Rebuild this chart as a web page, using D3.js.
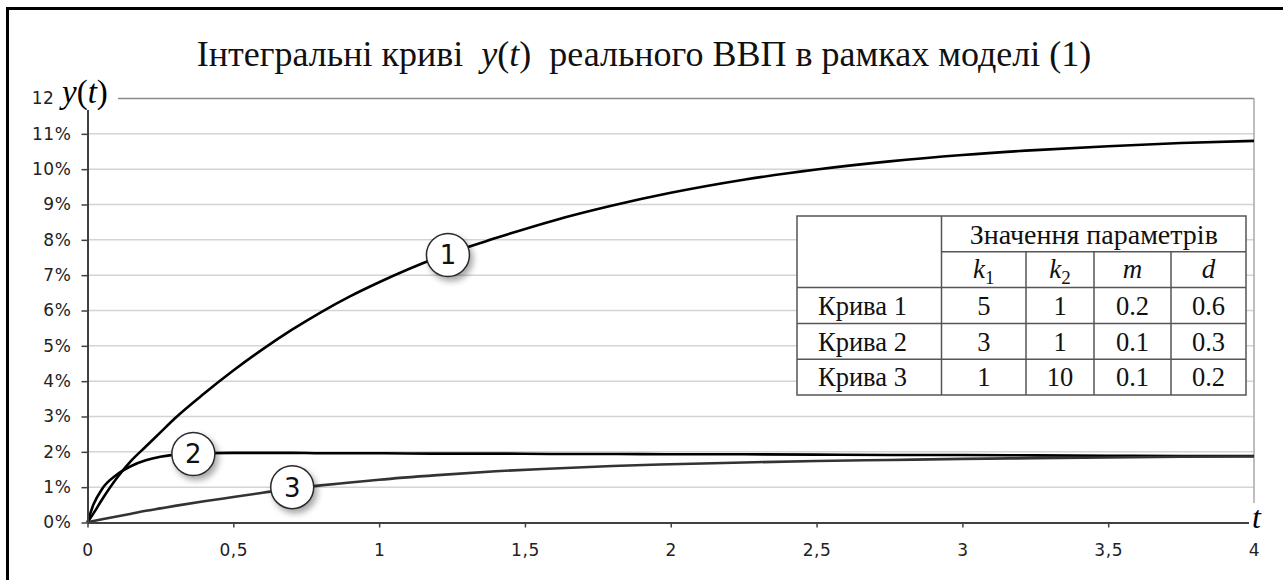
<!DOCTYPE html>
<html><head><meta charset="utf-8">
<script src="https://cdn.jsdelivr.net/npm/d3@7"></script>
<style>
html,body{margin:0;padding:0;background:#fff;}
svg{display:block;}
</style></head><body>
<svg id="chart" width="1283" height="580"></svg>
<script>
// Time samples (years) and the three integral curves, y in percent
const tValues = [0, 0.02, 0.05, 0.1, 0.15, 0.2, 0.25, 0.3, 0.4, 0.5, 0.6, 0.7, 0.8, 0.9, 1.0, 1.2, 1.4, 1.6, 1.8, 2.0, 2.25, 2.5, 2.75, 3.0, 3.25, 3.5, 3.75, 4.0];
const curve1 = [0, 0.25, 0.65, 1.25, 1.75, 2.15, 2.55, 2.95, 3.65, 4.3, 4.9, 5.45, 5.95, 6.4, 6.8, 7.5, 8.05, 8.55, 8.97, 9.33, 9.7, 9.99, 10.22, 10.4, 10.54, 10.65, 10.74, 10.8];
const curve2 = [0, 0.5, 0.95, 1.35, 1.6, 1.76, 1.86, 1.92, 1.96, 1.97, 1.97, 1.97, 1.96, 1.96, 1.96, 1.95, 1.95, 1.94, 1.94, 1.93, 1.93, 1.92, 1.91, 1.91, 1.9, 1.89, 1.88, 1.88];
const curve3 = [0, 0.04, 0.09, 0.17, 0.25, 0.33, 0.4, 0.47, 0.6, 0.72, 0.84, 0.96, 1.05, 1.13, 1.21, 1.34, 1.45, 1.53, 1.6, 1.65, 1.7, 1.74, 1.77, 1.8, 1.82, 1.84, 1.86, 1.87];

const yTicks = [0, 1, 2, 3, 4, 5, 6, 7, 8, 9, 10, 11, 12];
const xTicks = [0, 0.5, 1, 1.5, 2, 2.5, 3, 3.5, 4];

// Numbered callouts sitting on each curve
const markerNames = ["1", "2", "3"];
const markerT = [1.236, 0.363, 0.702];
const markerY = [7.57, 1.94, 1.0];

// Parameter table
const rowNames = ["Крива 1", "Крива 2", "Крива 3"];
const paramK1 = ["5", "3", "1"];
const paramK2 = ["1", "1", "10"];
const paramM = ["0.2", "0.1", "0.1"];
const paramD = ["0.6", "0.3", "0.2"];

const svg = d3.select("#chart");
const serif = "'Liberation Serif','Times New Roman',serif";
const sans = "'DejaVu Sans',Verdana,sans-serif";

svg.append("rect").attr("width", 1283).attr("height", 580).attr("fill", "#fff");

// frame (left and top edges)
svg.append("path").attr("d", "M7.5,580V8.5H1283").attr("fill", "none")
  .attr("stroke", "#000").attr("stroke-width", 3);

const x = d3.scaleLinear().domain([0, 4]).range([87.5, 1254]);
const y = d3.scaleLinear().domain([0, 12]).range([522.5, 98.5]);

const defs = svg.append("defs");
const f = defs.append("filter").attr("id", "shadow").attr("x", "-50%").attr("y", "-50%").attr("width", "200%").attr("height", "200%");
f.append("feDropShadow").attr("dx", 3).attr("dy", 4).attr("stdDeviation", 3)
  .attr("flood-color", "#000").attr("flood-opacity", 0.35);

// gridlines
const grid = svg.append("g");
grid.selectAll("line.h").data(yTicks.filter(d => d > 0)).join("line")
  .attr("x1", x(0)).attr("x2", x(4))
  .attr("y1", d => y(d)).attr("y2", d => y(d))
  .attr("stroke", d => d === 12 ? "#8a8a8a" : "#d4d4d4")
  .attr("stroke-width", 1.5);
grid.append("line").attr("x1", x(4)).attr("x2", x(4)).attr("y1", y(12)).attr("y2", y(0))
  .attr("stroke", "#a8a8a8").attr("stroke-width", 1.5);

// curves
const line = d3.line().x((d, i) => x(tValues[i])).y(d => y(d)).curve(d3.curveMonotoneX);
const curves = [
  { values: curve1, color: "#000" },
  { values: curve2, color: "#000" },
  { values: curve3, color: "#333" }
];
svg.append("g").selectAll("path").data(curves).join("path")
  .attr("d", d => line(d.values))
  .attr("fill", "none")
  .attr("stroke", d => d.color)
  .attr("stroke-width", 2.6);

// axes
const yAxis = svg.append("g").attr("transform", `translate(${x(0)},0)`)
  .call(d3.axisLeft(y).tickValues(yTicks).tickFormat(d => d === 12 ? "12" : d + "%").tickSize(6).tickSizeOuter(0).tickPadding(10));
const xAxis = svg.append("g").attr("transform", `translate(0,${y(0)})`)
  .call(d3.axisBottom(x).tickValues(xTicks).tickFormat(d => String(d).replace(".", ",")).tickSize(5).tickSizeOuter(0).tickPadding(16));
[yAxis, xAxis].forEach(a => {
  a.select(".domain").attr("stroke", "#404040").attr("stroke-width", 2);
  a.selectAll(".tick line").attr("stroke", "#404040").attr("stroke-width", 1.5);
  a.selectAll(".tick text").attr("font-family", sans).attr("font-size", 17)
    .attr("letter-spacing", 0.6).attr("fill", "#222");
});
// the top label's percent sign sits under the axis name, so only "12" shows
yAxis.selectAll(".tick").filter(d => d === 12).select("text").attr("x", -33);

// axis name boxes
svg.append("rect").attr("x", 56).attr("y", 72).attr("width", 62).attr("height", 38).attr("fill", "#fff");
const yName = svg.append("text").attr("x", 62).attr("y", 103)
  .attr("font-family", serif).attr("font-size", 33).attr("fill", "#000");
yName.append("tspan").attr("font-style", "italic").text("y");
yName.append("tspan").text("(");
yName.append("tspan").attr("font-style", "italic").text("t");
yName.append("tspan").text(")");

svg.append("rect").attr("x", 1249).attr("y", 503).attr("width", 20).attr("height", 32).attr("fill", "#fff");
svg.append("text").attr("x", 1252).attr("y", 528)
  .attr("font-family", serif).attr("font-style", "italic").attr("font-size", 32).attr("fill", "#000").text("t");

// title
const title = svg.append("text").attr("x", 644).attr("y", 66).attr("text-anchor", "middle")
  .attr("font-family", serif).attr("font-size", 36).attr("fill", "#111")
  .style("white-space", "pre");
title.append("tspan").text("Інтегральні криві  ");
title.append("tspan").attr("font-style", "italic").text("y");
title.append("tspan").text("(");
title.append("tspan").attr("font-style", "italic").text("t");
title.append("tspan").text(")  реального ВВП в рамках моделі (1)");

// callouts
const mk = svg.append("g").selectAll("g").data(markerNames).join("g")
  .attr("transform", (d, i) => `translate(${x(markerT[i])},${y(markerY[i])})`);
mk.append("circle").attr("r", 21.5).attr("fill", "#fff").attr("stroke", "#2a2a2a")
  .attr("stroke-width", 1.5).attr("filter", "url(#shadow)");
mk.append("text").attr("text-anchor", "middle").attr("dy", "0.36em")
  .attr("font-family", sans).attr("font-size", 26).attr("fill", "#111").text(d => d);

// parameter table
const colEdges = [797, 941.5, 1026, 1094, 1171, 1246];
const rowEdges = [216, 251.8, 287.6, 323.4, 359.2, 395];
const tbl = svg.append("g");
tbl.append("rect").attr("x", colEdges[0]).attr("y", rowEdges[0])
  .attr("width", colEdges[5] - colEdges[0]).attr("height", rowEdges[5] - rowEdges[0])
  .attr("fill", "#fff").attr("stroke", "#555").attr("stroke-width", 1.5);
const tl = (x1, y1, x2, y2) => tbl.append("line").attr("x1", x1).attr("y1", y1).attr("x2", x2).attr("y2", y2)
  .attr("stroke", "#555").attr("stroke-width", 1.5);
tl(colEdges[1], rowEdges[0], colEdges[1], rowEdges[5]);
tl(colEdges[1], rowEdges[1], colEdges[5], rowEdges[1]);
for (let c = 2; c < 5; c++) tl(colEdges[c], rowEdges[1], colEdges[c], rowEdges[5]);
for (let r = 2; r < 5; r++) tl(colEdges[0], rowEdges[r], colEdges[5], rowEdges[r]);

const cellText = (cx, r, txt, anchor, size) => tbl.append("text")
  .attr("x", cx).attr("y", (rowEdges[r] + rowEdges[r + 1]) / 2).attr("dy", "0.35em")
  .attr("text-anchor", anchor || "middle")
  .attr("font-family", serif).attr("font-size", size || 26.5).attr("fill", "#111").text(txt);
const mid = c => (colEdges[c] + colEdges[c + 1]) / 2;

cellText((colEdges[1] + colEdges[5]) / 2, 0, "Значення параметрів", "middle", 28);
// symbol header
const sym = (c, base, sub) => {
  const t = tbl.append("text").attr("x", mid(c)).attr("y", (rowEdges[1] + rowEdges[2]) / 2).attr("dy", "0.3em")
    .attr("text-anchor", "middle").attr("font-family", serif).attr("font-size", 27).attr("fill", "#111");
  t.append("tspan").attr("font-style", "italic").text(base);
  if (sub) t.append("tspan").attr("font-size", 19).attr("dy", 6).text(sub);
};
sym(1, "k", "1"); sym(2, "k", "2"); sym(3, "m"); sym(4, "d");

const cols = [paramK1, paramK2, paramM, paramD];
rowNames.forEach((name, i) => {
  cellText(818, i + 2, name, "start");
  cols.forEach((arr, c) => cellText(mid(c + 1), i + 2, arr[i]));
});
</script>
</body></html>
